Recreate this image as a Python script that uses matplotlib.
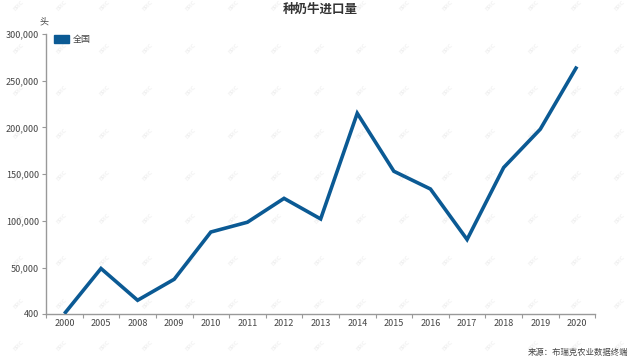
import matplotlib.pyplot as plt
import numpy as np
from matplotlib.patches import Patch

plt.rcParams['font.family'] = ['Noto Sans CJK SC', 'DejaVu Sans']

years = ['2000', '2005', '2008', '2009', '2010', '2011', '2012', '2013',
         '2014', '2015', '2016', '2017', '2018', '2019', '2020']
imports = [600, 49000, 15000, 37500, 88000, 98500, 124000, 102000,
           215000, 153000, 134000, 80000, 157000, 198000, 265000]
y_ticks = [400, 50000, 100000, 150000, 200000, 250000, 300000]

LINE = '#0b5a94'
AXIS = '#999999'
TXT = '#444444'

fig = plt.figure(figsize=(6.4, 3.6), dpi=100)

# faint watermark grid, kept behind the axes
for wx in np.arange(0.03, 1.0, 0.067):
    for wy in np.arange(0.04, 1.0, 0.118):
        fig.text(wx, wy, 'BRIC', fontsize=4, color='#ececec', rotation=45,
                 ha='center', va='center', zorder=-5)

ax = fig.add_axes([0.072, 0.128, 0.858, 0.778])
ax.patch.set_alpha(0)
x = np.arange(len(years))
ax.plot(x, imports, color=LINE, lw=2.6, solid_joinstyle='miter',
        solid_capstyle='butt', zorder=3)

ax.set_xlim(-0.5, len(years) - 0.5)
ax.set_ylim(400, 300000)
ax.set_yticks(y_ticks)
ax.set_yticklabels([f'{v:,}' for v in y_ticks])
ax.set_xticks(np.arange(-0.5, len(years), 1.0))
ax.set_xticklabels([])
ax.set_xticks(x, minor=True)
ax.set_xticklabels(years, minor=True)
ax.tick_params(axis='x', which='major', length=3, color=AXIS, direction='out')
ax.tick_params(axis='x', which='minor', length=0, pad=4, labelsize=6.5, labelcolor=TXT)
ax.tick_params(axis='y', length=3, color=AXIS, labelsize=6.5, labelcolor=TXT, pad=2)

for s in ['top', 'right']:
    ax.spines[s].set_visible(False)
for s in ['left', 'bottom']:
    ax.spines[s].set_color(AXIS)
    ax.spines[s].set_linewidth(1.0)

ax.legend(handles=[Patch(facecolor=LINE, edgecolor=LINE, label='全国')],
          loc='upper left', bbox_to_anchor=(0.0, 1.025), frameon=False,
          fontsize=6.5, handlelength=1.6, handleheight=0.9, handletextpad=0.5,
          labelcolor=TXT)

fig.text(0.5, 0.975, '种奶牛进口量', ha='center', va='center', fontsize=9,
         fontweight='bold', color='#333333')
fig.text(0.069, 0.938, '头', ha='center', va='center', fontsize=6.5, color=TXT)
fig.text(0.982, 0.02, '来源：布瑞克农业数据终端', ha='right', va='center',
         fontsize=6, color=TXT)

fig.savefig('out.png', dpi=100)
